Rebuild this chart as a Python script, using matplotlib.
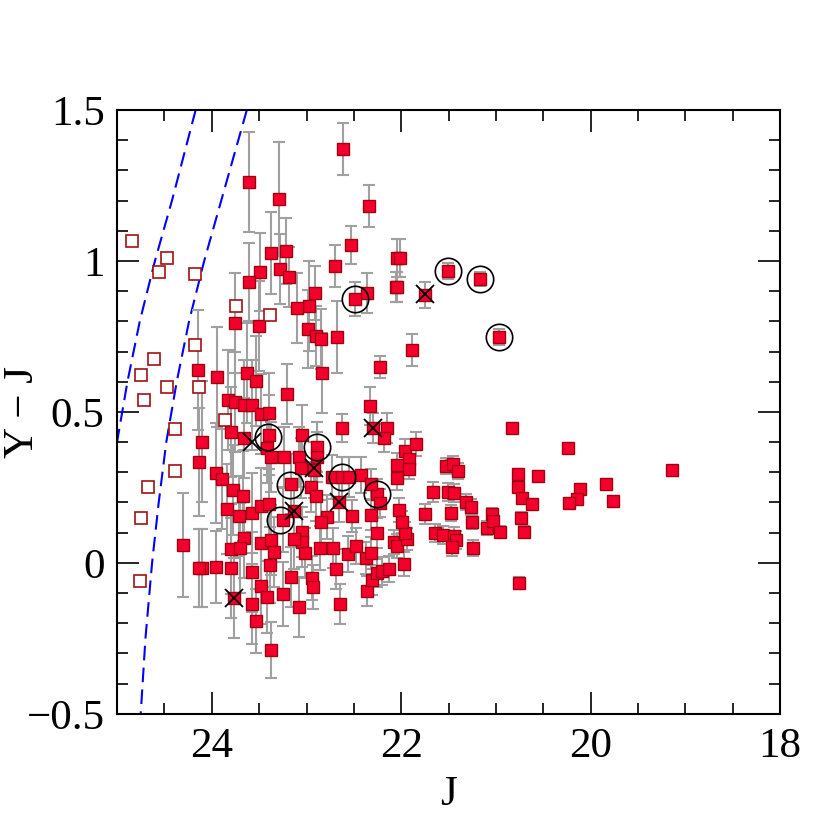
import matplotlib
matplotlib.use('Agg')
import matplotlib.pyplot as plt
from matplotlib.ticker import MultipleLocator, FuncFormatter

plt.rcParams['font.family'] = ['Liberation Serif', 'DejaVu Serif']

# detected sources: J, Y-J, error on Y-J
j_mag = [22.61, 22.34, 23.61, 23.29, 22.53, 23.37, 23.22, 22.70, 22.04, 22.01,
         23.49, 23.28, 23.19, 23.61, 22.06, 22.04, 22.36, 22.49, 21.75, 21.51,
         21.17, 22.91, 22.97, 23.10, 23.76, 23.50, 22.98, 22.68, 22.90, 22.85,
         20.97, 21.89, 22.22, 24.15, 23.95, 23.63, 23.53, 22.84, 23.21, 23.83,
         23.75, 23.66, 23.58, 23.48, 23.40, 22.33, 23.80, 23.66, 23.40, 23.42,
         24.10, 23.05, 22.63, 22.30, 22.15, 22.18, 20.83, 22.89, 22.89, 23.38,
         23.24, 23.08, 21.96, 21.84, 21.92, 22.05, 21.92, 22.05, 24.14, 23.96,
         23.89, 23.06, 22.92, 22.73, 22.63, 22.55, 22.43, 21.53, 21.45, 21.40,
         20.77, 20.56, 20.24, 19.14, 19.84, 20.11, 20.14, 20.23, 19.76, 20.77,
         20.73, 20.62, 21.67, 21.51, 21.44, 21.32, 21.26, 21.04, 21.47, 21.75,
         22.02, 22.32, 22.52, 22.26, 22.22, 22.32, 22.66, 23.16, 22.95, 22.90,
         23.78, 23.67, 23.84, 23.71, 23.58, 23.48, 23.40, 23.25, 23.13, 22.78,
         22.85, 23.05, 23.05, 23.02, 22.86, 22.72, 22.56, 22.48, 22.26, 22.37,
         22.32, 22.69, 22.94, 22.93, 22.65, 22.36, 22.31, 22.26, 22.20, 22.13,
         21.97, 22.08, 22.04, 21.94, 21.96, 21.99, 21.64, 21.56, 21.44, 21.42,
         21.46, 21.25, 21.24, 21.10, 21.03, 20.96, 20.74, 20.70, 20.76, 23.66,
         23.80, 23.70, 23.48, 23.38, 23.34, 23.13, 24.30, 24.10, 24.13, 23.96,
         23.80, 23.58, 23.39, 23.16, 23.48, 23.42, 23.25, 23.77, 23.58, 23.08,
         23.53, 23.37]
yj_col = [1.371, 1.182, 1.262, 1.205, 1.053, 1.026, 1.033, 0.983, 1.010, 1.010,
          0.964, 0.974, 0.947, 0.930, 0.914, 0.914, 0.894, 0.874, 0.887, 0.967,
          0.940, 0.894, 0.851, 0.844, 0.795, 0.785, 0.775, 0.748, 0.752, 0.742,
          0.748, 0.705, 0.649, 0.639, 0.616, 0.629, 0.603, 0.629, 0.560, 0.540,
          0.533, 0.523, 0.523, 0.493, 0.497, 0.520, 0.434, 0.414, 0.424, 0.381,
          0.401, 0.424, 0.447, 0.447, 0.447, 0.414, 0.447, 0.384, 0.351, 0.351,
          0.351, 0.351, 0.371, 0.394, 0.344, 0.325, 0.311, 0.281, 0.334, 0.298,
          0.278, 0.315, 0.308, 0.285, 0.285, 0.285, 0.291, 0.321, 0.328, 0.305,
          0.295, 0.288, 0.381, 0.308, 0.262, 0.245, 0.212, 0.199, 0.205, 0.252,
          0.215, 0.195, 0.235, 0.235, 0.232, 0.202, 0.185, 0.162, 0.166, 0.162,
          0.175, 0.159, 0.156, 0.228, 0.199, 0.262, 0.202, 0.262, 0.252, 0.222,
          0.242, 0.222, 0.179, 0.156, 0.166, 0.189, 0.195, 0.142, 0.172, 0.152,
          0.136, 0.103, 0.070, 0.033, 0.050, 0.050, 0.030, 0.056, 0.099, 0.017,
          0.033, -0.020, -0.050, -0.079, -0.136, -0.093, -0.056, -0.033, -0.026, -0.020,
          -0.003, 0.069, 0.056, 0.079, 0.099, 0.136, 0.099, 0.093, 0.089, 0.076,
          0.053, 0.136, 0.050, 0.116, 0.139, 0.103, 0.149, 0.103, -0.066, 0.083,
          0.046, 0.050, 0.066, 0.076, 0.036, 0.079, 0.060, -0.017, -0.017, -0.013,
          -0.017, -0.030, -0.007, -0.046, -0.076, -0.113, -0.103, -0.116, -0.136, -0.146,
          -0.192, -0.288]
yj_err = [0.086, 0.070, 0.165, 0.190, 0.063, 0.135, 0.110, 0.070, 0.063, 0.063,
          0.130, 0.115, 0.100, 0.130, 0.050, 0.050, 0.066, 0.056, 0.044, 0.026,
          0.023, 0.090, 0.150, 0.116, 0.165, 0.150, 0.130, 0.120, 0.100, 0.100,
          0.026, 0.054, 0.037, 0.200, 0.166, 0.166, 0.149, 0.132, 0.100, 0.166,
          0.166, 0.149, 0.149, 0.132, 0.132, 0.063, 0.149, 0.132, 0.132, 0.116,
          0.200, 0.100, 0.046, 0.050, 0.050, 0.046, 0.017, 0.083, 0.083, 0.116,
          0.100, 0.100, 0.040, 0.040, 0.040, 0.040, 0.033, 0.040, 0.180, 0.166,
          0.166, 0.100, 0.093, 0.073, 0.066, 0.066, 0.060, 0.026, 0.026, 0.026,
          0.017, 0.017, 0.017, 0.013, 0.017, 0.017, 0.017, 0.017, 0.017, 0.017,
          0.017, 0.017, 0.033, 0.030, 0.030, 0.026, 0.026, 0.020, 0.026, 0.033,
          0.040, 0.050, 0.053, 0.050, 0.046, 0.050, 0.066, 0.100, 0.083, 0.083,
          0.149, 0.149, 0.149, 0.132, 0.132, 0.126, 0.116, 0.106, 0.100, 0.073,
          0.073, 0.083, 0.083, 0.083, 0.073, 0.066, 0.060, 0.060, 0.050, 0.053,
          0.053, 0.066, 0.073, 0.073, 0.066, 0.050, 0.050, 0.046, 0.046, 0.043,
          0.040, 0.040, 0.040, 0.036, 0.036, 0.036, 0.030, 0.030, 0.030, 0.030,
          0.030, 0.023, 0.026, 0.023, 0.023, 0.020, 0.020, 0.020, 0.020, 0.132,
          0.149, 0.149, 0.126, 0.116, 0.116, 0.100, 0.172, 0.130, 0.130, 0.120,
          0.166, 0.132, 0.126, 0.100, 0.126, 0.120, 0.106, 0.132, 0.132, 0.100,
          0.106, 0.093]

# Y-band non-detections (limits)
lim_j = [24.84, 24.47, 24.56, 24.18, 23.74, 23.39, 24.18, 24.61, 24.75, 24.47,
         24.13, 24.72, 23.86, 24.39, 24.39, 24.67, 24.75, 24.76]
lim_yj = [1.066, 1.010, 0.964, 0.957, 0.851, 0.821, 0.722, 0.675, 0.623, 0.583,
          0.583, 0.540, 0.474, 0.444, 0.305, 0.252, 0.149, -0.060]

# circled objects
circ_j = [22.49, 21.51, 21.17, 20.97, 23.41, 22.89, 23.17, 22.63, 22.26, 23.28]
circ_yj = [0.874, 0.967, 0.940, 0.748, 0.417, 0.384, 0.258, 0.285, 0.228, 0.142]

# crossed objects
cross_j = [21.75, 22.30, 23.58, 22.92, 23.13, 22.66, 23.77]
cross_yj = [0.891, 0.447, 0.401, 0.315, 0.172, 0.202, -0.116]

# detection limit curves
curve1_j = [24.17, 24.42, 24.60, 24.76, 24.89, 25.00, 25.08]
curve1_yj = [1.50, 1.20, 1.00, 0.80, 0.60, 0.40, 0.20]
curve2_j = [23.63, 23.90, 24.08, 24.24, 24.37, 24.48, 24.56, 24.63, 24.70, 24.75]
curve2_yj = [1.50, 1.20, 1.00, 0.80, 0.60, 0.40, 0.20, 0.00, -0.25, -0.50]

fig = plt.figure(figsize=(8.3, 8.3), dpi=100)
ax = fig.add_axes([0.141, 0.14, 0.799, 0.7275])

ax.plot(curve1_j, curve1_yj, color='blue', lw=1.5, ls=(0, (7, 3.5)))
ax.plot(curve2_j, curve2_yj, color='blue', lw=1.5, ls=(0, (7, 3.5)))

ax.errorbar(j_mag, yj_col, yerr=yj_err, fmt='none', ecolor='#a0a0a0',
            elinewidth=1.5, capsize=4.5, capthick=1.5, zorder=2)
ax.plot(j_mag, yj_col, 's', ms=8.5, mfc='#f5002d', mec='#a00010', mew=1.0, zorder=3)
ax.plot(lim_j, lim_yj, 's', ms=8, mfc='white', mec='#a01010', mew=1.2, zorder=3)
ax.plot(circ_j, circ_yj, 'o', ms=19, mfc='none', mec='black', mew=1.2, zorder=4)
ax.plot(cross_j, cross_yj, 'x', ms=13, color='black', mew=1.3, zorder=4)

ax.set_xlim(25, 18)
ax.set_ylim(-0.5, 1.5)

ax.xaxis.set_major_locator(MultipleLocator(2))
ax.xaxis.set_minor_locator(MultipleLocator(0.5))
ax.yaxis.set_major_locator(MultipleLocator(0.5))
ax.yaxis.set_minor_locator(MultipleLocator(0.1))
ax.yaxis.set_major_formatter(FuncFormatter(lambda v, p: ('%g' % v).replace('-', '\u2212')))

ax.tick_params(which='both', direction='in', top=True, right=True, labelsize=31)
ax.tick_params(which='major', length=16, width=1.2)
ax.tick_params(which='minor', length=8, width=1.2)
ax.tick_params(axis='x', pad=10)
ax.tick_params(axis='y', pad=9)
for s in ax.spines.values():
    s.set_linewidth(1.5)

ax.set_xlabel('J', fontsize=31, labelpad=7)
ax.set_ylabel('Y \u2212 J', fontsize=31)
ax.yaxis.set_label_coords(-0.113, 0.5)

fig.savefig('out.png', dpi=100)
